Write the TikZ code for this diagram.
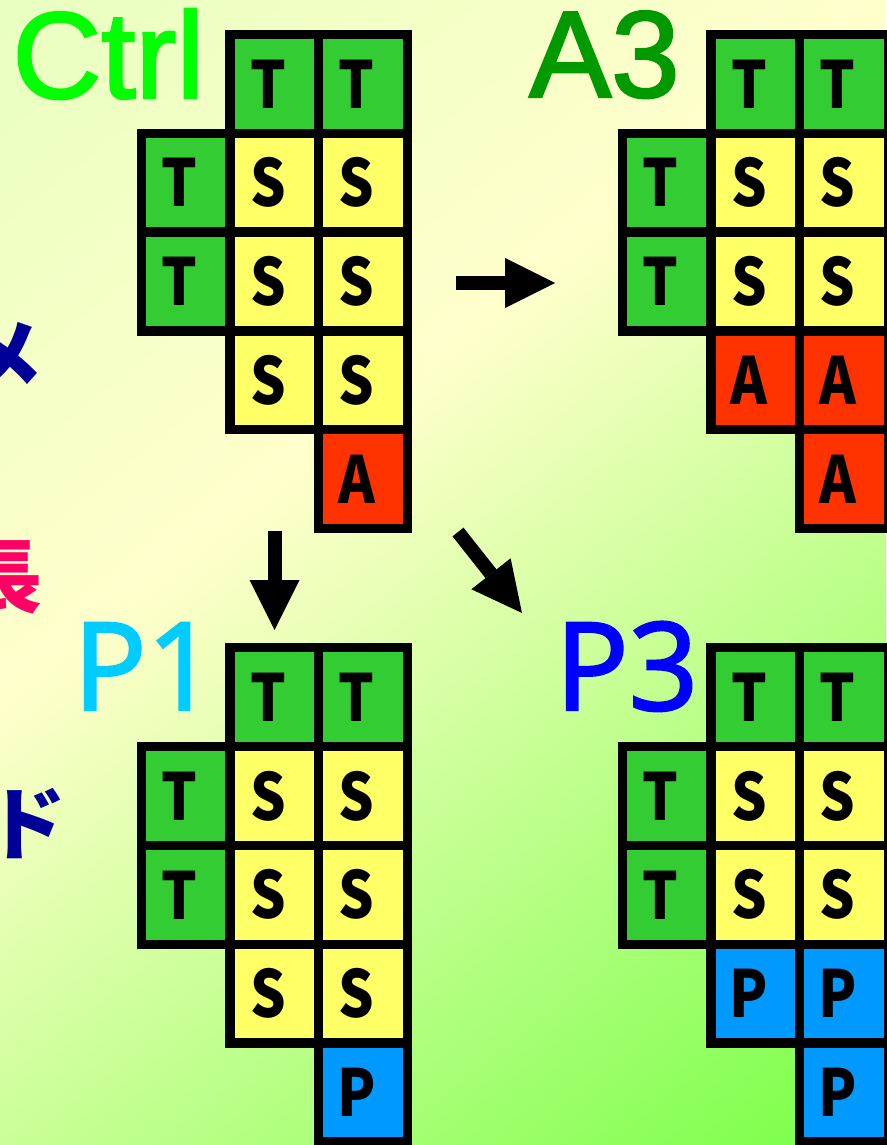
\documentclass[tikz,border=0pt]{standalone}
\usepackage{fontspec}
\setmainfont{Liberation Sans}
\newfontfamily\cjkfont{Noto Sans CJK JP}
\newfontfamily\cellfont[FakeStretch=0.86]{Noto Sans CJK JP}
\newfontfamily\titlefont[FakeBold=2]{Liberation Sans}
\newfontfamily\opensans[FakeBold=2]{Open Sans}
\usetikzlibrary{arrows.meta}
\definecolor{bgA}{RGB}{232,255,192}
\definecolor{bgB}{RGB}{255,255,204}
\definecolor{bgC}{RGB}{118,255,68}
\definecolor{cgreen}{RGB}{51,204,51}
\definecolor{cyellow}{RGB}{255,255,102}
\definecolor{cred}{RGB}{255,51,0}
\definecolor{cblue}{RGB}{0,153,255}
\definecolor{tCtrl}{RGB}{0,255,0}
\definecolor{tA}{RGB}{0,153,0}
\definecolor{tPone}{RGB}{0,204,255}
\definecolor{tPthree}{RGB}{0,0,255}
\definecolor{jnavy}{RGB}{0,0,153}
\definecolor{jpink}{RGB}{255,0,102}
\pgfdeclarehorizontalshading{bgshade}{100bp}{color(0bp)=(bgA); color(25bp)=(bgA); color(44bp)=(bgB); color(75bp)=(bgC); color(100bp)=(bgC)}
\tikzset{
  cellbase/.style={draw=black, line width=9.3pt, minimum width=88.6pt, minimum height=98.8pt,
    inner sep=0pt, text=black, font=\cellfont\bfseries\fontsize{65}{65}\selectfont},
  cT/.style={cellbase, fill=cgreen},
  cS/.style={cellbase, fill=cyellow},
  cA/.style={cellbase, fill=cred},
  cP/.style={cellbase, fill=cblue},
  title/.style={anchor=base west, inner sep=0pt, font=\titlefont\fontsize{123}{123}\selectfont},
  jchar/.style={inner sep=0pt, font=\cjkfont\bfseries\fontsize{80}{80}\selectfont},
  blockarrow/.style={draw=black, line width=14pt, -{Triangle[width=50pt, length=50pt, line width=0pt]}},
}
\newcommand\drawgrid[4]{%
  \foreach \c/\r/\t in {#4} {
    \node[c\t] (#1-\c-\r) at ({#2+88.6*(\c+0.5)}, {#3+98.8*(\r+0.5)+1.5}) {\hspace*{-13pt}\t};
  }}
\begin{document}
\begin{tikzpicture}[x=1pt, y=-1pt]
\useasboundingbox (0,0) rectangle (886,1145);
% background
\begin{scope}
  \clip (0,0) rectangle (886,1145);
  \begin{scope}[transform canvas={rotate=-51.7}]
    \shade[shading=bgshade] (0,-800) rectangle (1448,800);
  \end{scope}
\end{scope}
% partial Japanese characters at left edge
\node[jchar, text=jnavy] (jme) at (4,357) {メ};
\node[jchar, text=jpink] (jcho) at (3,577) {長};
\node[jchar, text=jnavy] (jdo) at (27,824) {ド};
% titles
\node[title, text=tCtrl] (tctrl) at (12.3,98) {Ctrl};
\node[title, text=tA] (ta3) at (529,97) {A3};
\node[title, text=tPone, font=\opensans\fontsize{122}{122}\selectfont] (tp1) at (73,710) {P1};
\node[title, text=tPthree, font=\opensans\fontsize{122}{122}\selectfont] (tp3) at (555,710) {P3};
% grids (cells drawn with a small vertical offset correction for the letters)
\drawgrid{ctrl}{141.5}{33}{1/0/T, 2/0/T, 0/1/T, 1/1/S, 2/1/S, 0/2/T, 1/2/S, 2/2/S, 1/3/S, 2/3/S, 2/4/A}
\drawgrid{athree}{622.5}{33}{1/0/T, 2/0/T, 0/1/T, 1/1/S, 2/1/S, 0/2/T, 1/2/S, 2/2/S, 1/3/A, 2/3/A, 2/4/A}
\drawgrid{pone}{141.5}{646.3}{1/0/T, 2/0/T, 0/1/T, 1/1/S, 2/1/S, 0/2/T, 1/2/S, 2/2/S, 1/3/S, 2/3/S, 2/4/P}
\drawgrid{pthree}{622.5}{646.3}{1/0/T, 2/0/T, 0/1/T, 1/1/S, 2/1/S, 0/2/T, 1/2/S, 2/2/S, 1/3/P, 2/3/P, 2/4/P}
% arrows
\coordinate (rs) at (456,283);
\coordinate (re) at (555,283);
\coordinate (ds) at (274.5,531);
\coordinate (de) at (274.5,630);
\coordinate (gs) at (458,532);
\coordinate (ge) at (522,613);
\draw[blockarrow] (rs) -- (re);
\draw[blockarrow] (ds) -- (de);
\draw[blockarrow] (gs) -- (ge);
\end{tikzpicture}
\end{document}
